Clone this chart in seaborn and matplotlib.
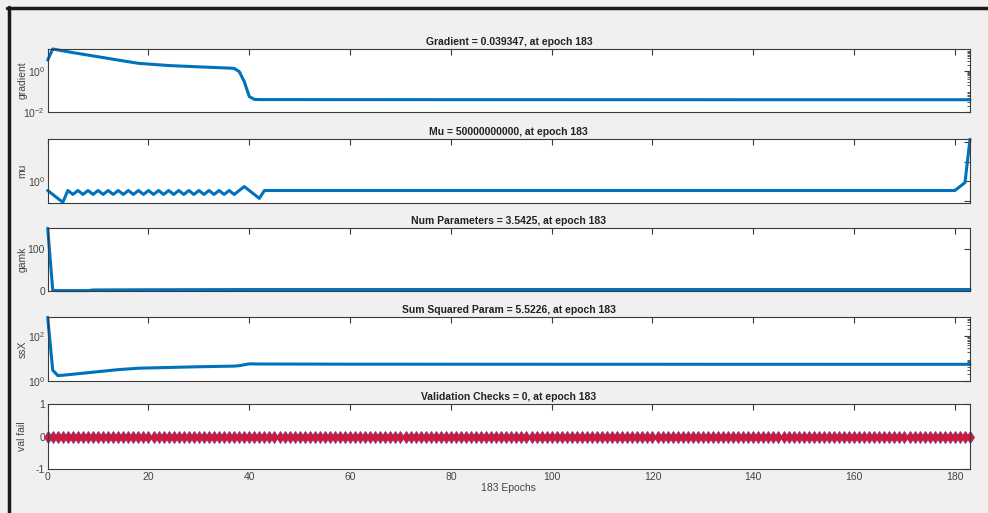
import matplotlib
matplotlib.use("Agg")
import matplotlib.pyplot as plt
from matplotlib.lines import Line2D
from matplotlib.ticker import NullFormatter, NullLocator, FixedLocator
import seaborn as sns

# (key epochs, line drawn between them)
grad_epochs = [0, 1, 5, 10, 14, 18, 24, 30, 36, 37, 38, 39, 40, 41, 42, 60, 100, 140, 183]
grad_values = [3.3, 11.4, 7.6, 4.8, 3.3, 2.3, 1.8, 1.55, 1.35, 1.3, 0.92, 0.3, 0.056, 0.041,
               0.040, 0.0398, 0.0396, 0.0394, 0.039347]

mu_epochs = list(range(0, 44)) + [60, 100, 140, 180, 181, 182, 183]
mu_values = [0.005, 0.0005, 5e-05, 5e-06,
             0.005, 0.0005, 0.005, 0.0005, 0.005, 0.0005, 0.005, 0.0005, 0.005, 0.0005,
             0.005, 0.0005, 0.005, 0.0005, 0.005, 0.0005, 0.005, 0.0005, 0.005, 0.0005,
             0.005, 0.0005, 0.005, 0.0005, 0.005, 0.0005, 0.005, 0.0005, 0.005, 0.0005,
             0.005, 0.0005, 0.005, 0.0005, 0.005,
             0.05, 0.005, 0.0005, 5e-05, 0.005,
             0.005, 0.005, 0.005, 0.005, 0.05, 0.5, 5e10]

gamk_epochs = [0, 1, 2, 8, 9, 20, 40, 100, 183]
gamk_values = [151, 1.5, 1.0, 1.0, 2.5, 3.0, 3.5, 3.54, 3.5425]

ssx_epochs = [0, 1, 2, 3, 5, 10, 14, 18, 24, 30, 37, 38, 40, 42, 60, 100, 140, 183]
ssx_values = [680, 3.0, 1.75, 1.8, 2.0, 2.6, 3.2, 3.7, 4.0, 4.3, 4.6, 4.8, 5.8, 5.7, 5.6, 5.55,
              5.53, 5.5226]

val_epochs = list(range(0, 184))
val_fail = [0] * 184

titles = ["Gradient = 0.039347, at epoch 183",
          "Mu = 50000000000, at epoch 183",
          "Num Parameters = 3.5425, at epoch 183",
          "Sum Squared Param = 5.5226, at epoch 183",
          "Validation Checks = 0, at epoch 183"]
ylabels = ["gradient", "mu", "gamk", "ssX", "val fail"]

sns.set_theme(style="white")
plt.rcParams["font.family"] = ["Liberation Sans", "DejaVu Sans"]
plt.rcParams["mathtext.fontset"] = "custom"
plt.rcParams["mathtext.rm"] = "Liberation Sans"

blue = "#0072BD"
axcol = "#3a3a3a"

fig = plt.figure(figsize=(9.88, 5.13), dpi=100, facecolor="#f0f0f0")
W, H = 988.0, 513.0
left, right = 47.7, 970.0
panels = [(49, 112), (139.3, 202.7), (228.3, 291), (317.3, 381), (404, 469.3)]
axes = []
for top, bot in panels:
    ax = fig.add_axes([left / W, 1 - bot / H, (right - left) / W, (bot - top) / H])
    ax.set_facecolor("white")
    axes.append(ax)

data = [(grad_epochs, grad_values), (mu_epochs, mu_values), (gamk_epochs, gamk_values),
        (ssx_epochs, ssx_values)]
for ax, (xs, ys) in zip(axes[:4], data):
    sns.lineplot(x=xs, y=ys, ax=ax, color=blue, lw=2.2, clip_on=False)

sns.lineplot(x=val_epochs, y=val_fail, ax=axes[4], color=blue, lw=2, marker="d",
             markersize=6.5, markerfacecolor="#e3122c", markeredgecolor="#7a3a8a",
             markeredgewidth=0.6, clip_on=False)

# y scales
ax = axes[0]
ax.set_yscale("log")
ax.set_ylim(0.01, max(grad_values))
ax.set_yticks([1e-2, 1e0])
ax.set_yticklabels([r"$10^{-2}$", r"$10^{0}$"])

ax = axes[1]
ax.set_yscale("log")
ax.set_ylim(min(mu_values) * 0.8, max(mu_values))
ax.yaxis.set_major_locator(FixedLocator([1e-5, 1e0, 1e5, 1e10]))
ax.set_yticklabels(["", r"$10^{0}$", "", ""])
ax.yaxis.set_minor_locator(NullLocator())

ax = axes[2]
ax.set_ylim(0, max(gamk_values))
ax.set_yticks([0, 100])
ax.set_yticklabels(["0", "100"])

ax = axes[3]
ax.set_yscale("log")
ax.set_ylim(1, max(ssx_values))
ax.set_yticks([1e0, 1e2])
ax.set_yticklabels([r"$10^{0}$", r"$10^{2}$"])

ax = axes[4]
ax.set_ylim(-1, 1)
ax.set_yticks([-1, 0, 1])
ax.set_yticklabels(["-1", "0", "1"])

for i, ax in enumerate(axes):
    ax.set_xlim(0, 183)
    ax.set_xticks(range(0, 181, 20))
    if i < 4:
        ax.set_xticklabels([])
    ax.yaxis.set_minor_formatter(NullFormatter())
    ax.tick_params(which="both", direction="in", top=True, right=True, colors=axcol,
                   labelcolor="#444444", labelsize=7.5, pad=2)
    ax.tick_params(which="major", length=4.5, width=0.8)
    ax.tick_params(which="minor", length=2.5, width=0.6)
    for s in ax.spines.values():
        s.set_visible(True)
        s.set_color(axcol)
        s.set_linewidth(0.8)
    ax.set_title(titles[i], fontsize=7.5, fontweight="bold", color="#222222", pad=3)
    ax.set_ylabel(ylabels[i], fontsize=7.5, color="#444444")
    ax.yaxis.set_label_coords(-0.022, 0.5)
    ax.set_xlabel("")

axes[4].set_xlabel("183 Epochs", fontsize=7.5, color="#444444", labelpad=1)

# outer window frame (left and top edges)
fig.add_artist(Line2D([8.5 / W, 8.5 / W], [0, 1 - 7 / H], color="#1a1a1a", lw=2.5))
fig.add_artist(Line2D([7 / W, 1], [1 - 7.5 / H, 1 - 7.5 / H], color="#1a1a1a", lw=2.5))

fig.savefig("out.png", dpi=100, facecolor=fig.get_facecolor())
